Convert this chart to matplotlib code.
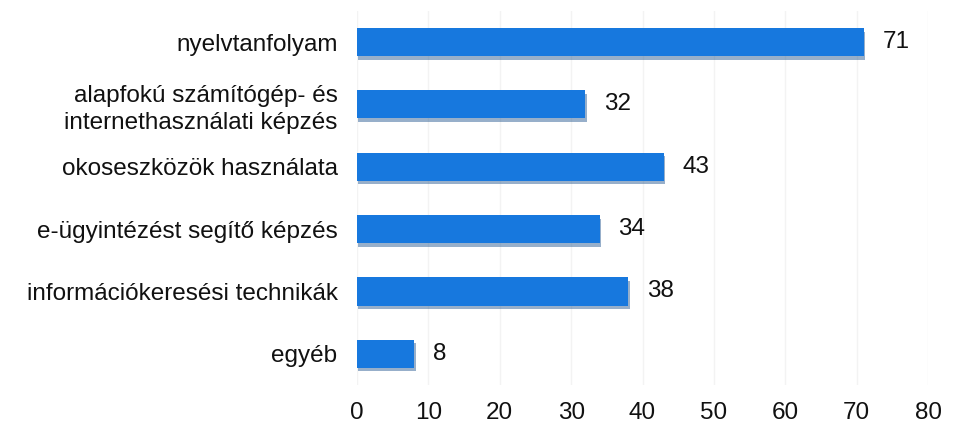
import matplotlib
matplotlib.use('Agg')
import matplotlib.pyplot as plt
import matplotlib.patheffects as pe

categories = [
    'nyelvtanfolyam',
    'alapfokú számítógép- és\ninternethasználati képzés',
    'okoseszközök használata',
    'e-ügyintézést segítő képzés',
    'információkeresési technikák',
    'egyéb',
]
values = [71, 32, 43, 34, 38, 8]
xticks = [0, 10, 20, 30, 40, 50, 60, 70, 80]

plt.rcParams['font.family'] = ['Liberation Sans', 'DejaVu Sans']
fs = 17.5

fig = plt.figure(figsize=(9.65, 4.37), dpi=100)
ax = fig.add_axes([0.37, 0.119, 0.5917, 0.856])

pos = list(range(len(categories)))
bars = ax.barh(pos, values, height=0.45, color='#1778de', zorder=3)
for b in bars:
    b.set_path_effects([pe.SimplePatchShadow(offset=(1, -2.5), shadow_rgbFace='#1a4f8a', alpha=0.45),
                        pe.Normal()])

for p, v in zip(pos, values):
    ax.text(v + 2.6, p, str(v), va='center', ha='left', fontsize=fs, color='#111111')

ax.set_yticks(pos)
ax.set_yticklabels(categories, fontsize=fs, color='#111111', linespacing=1.3)
ax.set_ylim(len(categories) - 0.5, -0.5)
ax.set_xlim(0, 80)
ax.set_xticks(xticks)
ax.set_xticklabels([str(t) for t in xticks], fontsize=fs, color='#111111')
ax.tick_params(axis='y', length=0, pad=14)
ax.tick_params(axis='x', length=0, pad=12)
ax.grid(axis='x', color='#f3f3f3', linewidth=1, zorder=0)
for s in ax.spines.values():
    s.set_visible(False)

fig.savefig('out.png', dpi=100)
